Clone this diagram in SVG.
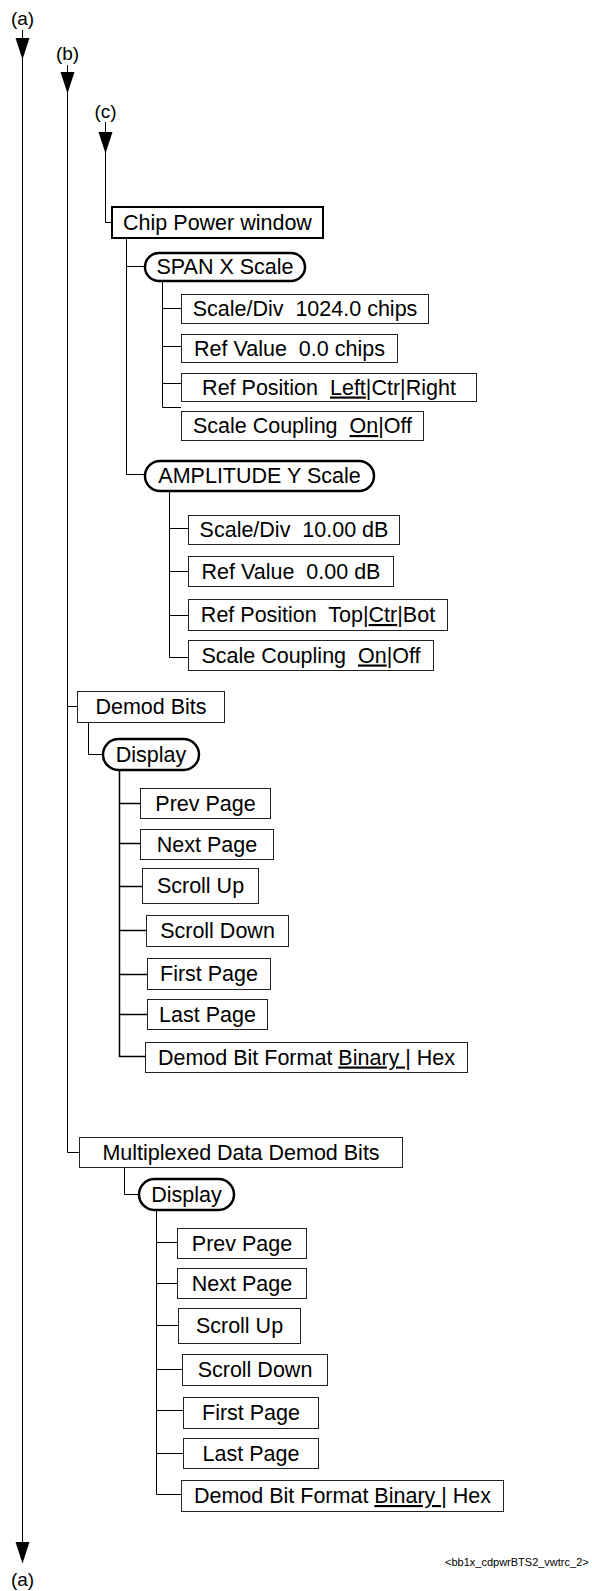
<svg xmlns="http://www.w3.org/2000/svg" width="592" height="1591" viewBox="0 0 592 1591">
<style>
text{font-family:"Liberation Sans",Arial,sans-serif;fill:#000;white-space:pre}
.t{font-size:21.5px;text-anchor:middle}
.lbl{font-size:19px;text-anchor:middle}
.box{fill:#fff;stroke:#222;stroke-width:1}
.box2{fill:#fff;stroke:#000;stroke-width:2}
.pill{fill:#fff;stroke:#000;stroke-width:2.5}
.c{fill:none;stroke:#000;stroke-width:1}
.ah{fill:#000;stroke:none}
.u{text-decoration:underline}
</style>
<defs>
<path id="arr" d="M-7,0 L7,0 L0,21.5 Z"/>
</defs>
<g id="connectors">
<path class="c" d="M22.5,30 V1545"/>
<path class="c" d="M67.5,65 V1152.5 H79 M67.5,706.5 H77"/>
<path class="c" d="M105.5,122 V222.5 H112"/>
<path class="c" d="M126.5,238 V474.5 H145 M126.5,266.5 H145"/>
<path class="c" d="M162.5,281 V407.5 H181 M162.5,308.5 H181 M162.5,346.5 H181 M162.5,383.5 H181"/>
<path class="c" d="M169.5,491 V657.5 H188 M169.5,528.5 H188 M169.5,571.5 H188 M169.5,615.5 H188"/>
<path class="c" d="M88.5,722 V754.5 H103"/>
<path class="c" style="stroke-width:1.5" d="M119.5,770 V1056.5 H145 M119.5,803.5 H140 M119.5,843.5 H140 M119.5,886.5 H142 M119.5,930.5 H146 M119.5,974.5 H147 M119.5,1014.5 H147"/>
<path class="c" d="M124.5,1167 V1194.5 H139"/>
<path class="c" d="M156.5,1210 V1494.5 H181 M156.5,1242.5 H177 M156.5,1283.5 H177 M156.5,1325.5 H178 M156.5,1369.5 H182 M156.5,1410.5 H183 M156.5,1453.5 H183"/>
<use href="#arr" class="ah" x="22.5" y="38"/>
<use href="#arr" class="ah" x="22.5" y="1542"/>
<use href="#arr" class="ah" x="67.5" y="72"/>
<use href="#arr" class="ah" x="105.5" y="132"/>
</g>
<g id="labels">
<text class="lbl" x="22.5" y="25">(a)</text>
<text class="lbl" x="67.5" y="60">(b)</text>
<text class="lbl" x="105.5" y="118">(c)</text>
<text class="lbl" x="22.5" y="1586">(a)</text>
</g>
<g id="chip-power"><rect class="box2" x="112" y="207" width="211" height="31"/><text class="t" x="217.5" y="229.5">Chip Power window</text></g>
<g id="span-x"><rect class="pill" x="145" y="253" width="160" height="28" rx="14"/><text class="t" x="225" y="274">SPAN X Scale</text></g>
<g id="span-scalediv"><rect class="box" x="181.5" y="294.5" width="247" height="29"/><text class="t" x="305" y="316">Scale/Div  1024.0 chips</text></g>
<g id="span-refvalue"><rect class="box" x="181.5" y="334.5" width="216" height="28"/><text class="t" x="289.5" y="355.5">Ref Value  0.0 chips</text></g>
<g id="span-refpos"><rect class="box" x="181.5" y="373.5" width="295" height="28"/><text class="t" x="329" y="394.5">Ref Position  <tspan class="u">Left</tspan>|Ctr|Right</text></g>
<g id="span-coupling"><rect class="box" x="181.5" y="411.5" width="242" height="29"/><text class="t" x="302.5" y="433">Scale Coupling  <tspan class="u">On</tspan>|Off</text></g>
<g id="amp-y"><rect class="pill" x="145" y="461" width="229" height="30" rx="15"/><text class="t" x="259.5" y="483">AMPLITUDE Y Scale</text></g>
<g id="amp-scalediv"><rect class="box" x="188.5" y="515.5" width="211" height="29"/><text class="t" x="294" y="537">Scale/Div  10.00 dB</text></g>
<g id="amp-refvalue"><rect class="box" x="188.5" y="556.5" width="205" height="30"/><text class="t" x="291" y="578.5">Ref Value  0.00 dB</text></g>
<g id="amp-refpos"><rect class="box" x="188.5" y="599.5" width="259" height="31"/><text class="t" x="318" y="622">Ref Position  Top|<tspan class="u">Ctr</tspan>|Bot</text></g>
<g id="amp-coupling"><rect class="box" x="188.5" y="640.5" width="245" height="30"/><text class="t" x="311" y="662.5">Scale Coupling  <tspan class="u">On</tspan>|Off</text></g>
<g id="demod-bits"><rect class="box" x="77.5" y="691.5" width="147" height="31"/><text class="t" x="151" y="714">Demod Bits</text></g>
<g id="display1"><rect class="pill" x="103" y="739" width="96" height="31" rx="15.5"/><text class="t" x="151" y="761.5">Display</text></g>
<g id="d1-prev"><rect class="box" x="140.5" y="788.5" width="130" height="30"/><text class="t" x="205.5" y="810.5">Prev Page</text></g>
<g id="d1-next"><rect class="box" x="140.5" y="829.5" width="133" height="30"/><text class="t" x="207" y="851.5">Next Page</text></g>
<g id="d1-scrollup"><rect class="box" x="142.5" y="868.5" width="116" height="35"/><text class="t" x="200.5" y="893">Scroll Up</text></g>
<g id="d1-scrolldown"><rect class="box" x="146.5" y="915.5" width="142" height="31"/><text class="t" x="217.5" y="938">Scroll Down</text></g>
<g id="d1-first"><rect class="box" x="147.5" y="958.5" width="123" height="31"/><text class="t" x="209" y="981">First Page</text></g>
<g id="d1-last"><rect class="box" x="147.5" y="999.5" width="120" height="30"/><text class="t" x="207.5" y="1021.5">Last Page</text></g>
<g id="d1-format"><rect class="box" x="145.5" y="1042.5" width="322" height="30"/><text class="t" x="306.5" y="1064.5">Demod Bit Format <tspan class="u">Binary |</tspan> Hex</text></g>
<g id="mux-demod-bits"><rect class="box" x="79.5" y="1137.5" width="323" height="30"/><text class="t" x="241" y="1159.5">Multiplexed Data Demod Bits</text></g>
<g id="display2"><rect class="pill" x="139" y="1179" width="95" height="31" rx="15.5"/><text class="t" x="186.5" y="1201.5">Display</text></g>
<g id="d2-prev"><rect class="box" x="177.5" y="1228.5" width="129" height="30"/><text class="t" x="242" y="1250.5">Prev Page</text></g>
<g id="d2-next"><rect class="box" x="177.5" y="1268.5" width="129" height="30"/><text class="t" x="242" y="1290.5">Next Page</text></g>
<g id="d2-scrollup"><rect class="box" x="178.5" y="1308.5" width="122" height="35"/><text class="t" x="239.5" y="1333">Scroll Up</text></g>
<g id="d2-scrolldown"><rect class="box" x="182.5" y="1354.5" width="145" height="31"/><text class="t" x="255" y="1377">Scroll Down</text></g>
<g id="d2-first"><rect class="box" x="183.5" y="1397.5" width="135" height="31"/><text class="t" x="251" y="1420">First Page</text></g>
<g id="d2-last"><rect class="box" x="183.5" y="1438.5" width="135" height="30"/><text class="t" x="251" y="1460.5">Last Page</text></g>
<g id="d2-format"><rect class="box" x="181.5" y="1480.5" width="322" height="31"/><text class="t" x="342.5" y="1503">Demod Bit Format <tspan class="u">Binary |</tspan> Hex</text></g>
<g id="footer"><text x="445" y="1566" style="font-size:11px">&lt;bb1x_cdpwrBTS2_vwtrc_2&gt;</text></g>
</svg>
